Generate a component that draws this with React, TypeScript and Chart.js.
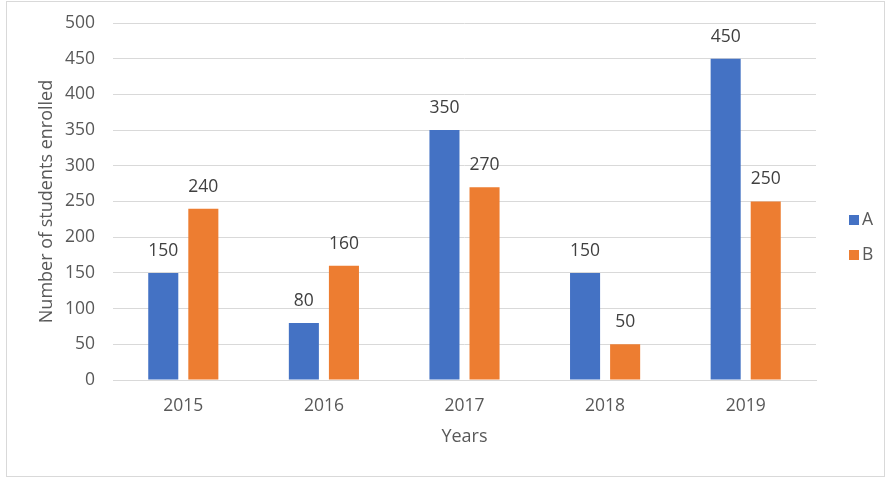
import React, { useEffect, useRef } from "react";
import { Chart, registerables } from "chart.js";

Chart.register(...registerables);

const categories = ["2015", "2016", "2017", "2018", "2019"];
const seriesA = [150, 80, 350, 150, 450];
const seriesB = [240, 160, 270, 50, 250];
const seriesNames = ["A", "B"];
const yTicks = [0, 50, 100, 150, 200, 250, 300, 350, 400, 450, 500];

const BLUE = "#4472C4";
const ORANGE = "#ED7D31";
const FONT = "'Open Sans', 'Noto Sans', sans-serif";
const TICK_SIZE = 17.5;
const TITLE_SIZE = 18;

const dataLabelPlugin = {
  id: "dataLabels",
  afterDatasetsDraw(chart: any) {
    const ctx = chart.ctx;
    ctx.save();
    ctx.font = `${TICK_SIZE}px ${FONT}`;
    ctx.fillStyle = "#404040";
    ctx.textAlign = "center";
    ctx.textBaseline = "middle";
    chart.data.datasets.forEach((ds: any, i: number) => {
      const meta = chart.getDatasetMeta(i);
      meta.data.forEach((bar: any, j: number) => {
        ctx.fillText(String(ds.data[j]), bar.x, bar.y - 22);
      });
    });
    ctx.restore();
  },
};

const legendPlugin = {
  id: "customLegend",
  afterDraw(chart: any) {
    const ctx = chart.ctx;
    ctx.save();
    ctx.font = `${TICK_SIZE}px ${FONT}`;
    ctx.textBaseline = "middle";
    ctx.textAlign = "left";
    const items = [
      { name: seriesNames[0], color: BLUE, y: 220 },
      { name: seriesNames[1], color: ORANGE, y: 255 },
    ];
    items.forEach((it) => {
      ctx.fillStyle = it.color;
      ctx.fillRect(849, it.y - 5, 10, 10);
      ctx.fillStyle = "#595959";
      ctx.fillText(it.name, 862, it.y);
    });
    ctx.restore();
  },
};

export default function App() {
  const ref = useRef<HTMLCanvasElement>(null);

  useEffect(() => {
    if (!ref.current) return;
    const chart = new Chart(ref.current, {
      type: "bar",
      data: {
        labels: categories,
        datasets: [
          {
            label: seriesNames[0],
            data: seriesA,
            backgroundColor: BLUE,
            barPercentage: 0.75,
            categoryPercentage: 0.57,
          },
          {
            label: seriesNames[1],
            data: seriesB,
            backgroundColor: ORANGE,
            barPercentage: 0.75,
            categoryPercentage: 0.57,
          },
        ],
      },
      options: {
        animation: false,
        responsive: false,
        maintainAspectRatio: false,
        layout: { padding: { left: 0, right: 75, top: 23, bottom: 31 } },
        plugins: {
          legend: { display: false },
          tooltip: { enabled: false },
        },
        scales: {
          x: {
            grid: { display: false, drawTicks: false },
            border: { display: true, color: "#d9d9d9" },
            ticks: {
              color: "#595959",
              font: { family: FONT, size: TICK_SIZE },
              padding: 16,
            },
            title: {
              display: true,
              text: "Years",
              color: "#595959",
              font: { family: FONT, size: TITLE_SIZE },
              padding: { top: 0, bottom: 0 },
            },
            afterFit: (scale: any) => {
              scale.height = 68;
              scale.paddingLeft = 0;
              scale.paddingRight = 0;
            },
          },
          y: {
            min: 0,
            max: 500,
            afterBuildTicks: (scale: any) => {
              scale.ticks = yTicks.map((v) => ({ value: v }));
            },
            grid: { color: "#d9d9d9", drawTicks: false },
            border: { display: false },
            ticks: {
              color: "#595959",
              font: { family: FONT, size: TICK_SIZE },
              padding: 18,
            },
            title: {
              display: true,
              text: "Number of students enrolled",
              color: "#595959",
              font: { family: FONT, size: TITLE_SIZE },
              padding: { top: 36, bottom: 0 },
            },
            afterFit: (scale: any) => {
              scale.width = 113;
              scale.paddingTop = 0;
              scale.paddingBottom = 0;
            },
          },
        },
      },
      plugins: [dataLabelPlugin, legendPlugin],
    });
    return () => chart.destroy();
  }, []);

  return (
    <div
      style={{
        position: "fixed",
        left: 0,
        top: 0,
        width: 891,
        height: 479,
        background: "#fff",
      }}
    >
      <div
        style={{
          position: "absolute",
          left: 6,
          top: 1,
          width: 879,
          height: 476,
          border: "1px solid #d9d9d9",
          boxSizing: "border-box",
        }}
      />
      <canvas
        ref={ref}
        width={891}
        height={479}
        style={{ position: "absolute", left: 0, top: 0, width: 891, height: 479 }}
      />
    </div>
  );
}
